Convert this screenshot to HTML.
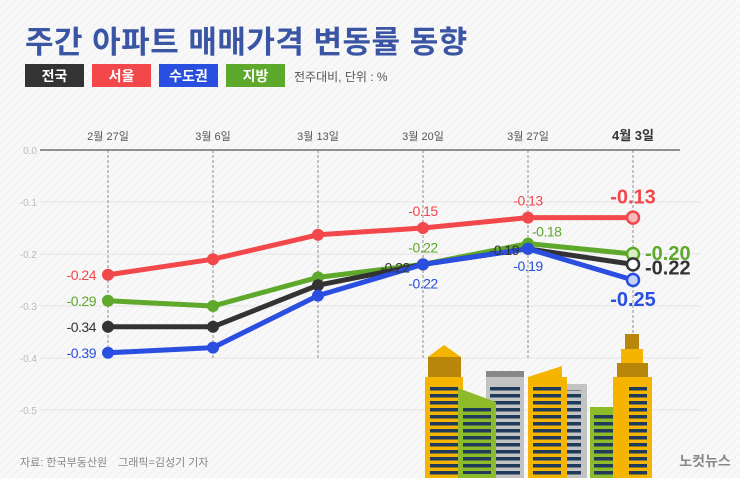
<!DOCTYPE html>
<html><head><meta charset="utf-8"><style>
body{margin:0;width:740px;height:478px;overflow:hidden;background:#f7f7f7;font-family:"Liberation Sans","Noto Sans CJK KR",sans-serif}
svg{display:block}
</style></head><body>
<svg width="740" height="478" viewBox="0 0 740 478" font-family="Liberation Sans, Noto Sans CJK KR, sans-serif">
<defs><pattern id="pt" width="8" height="8" patternUnits="userSpaceOnUse"><rect width="8" height="8" fill="#f8f8f8"/><path d="M0 8L8 0" stroke="#efefef" stroke-width="1"/></pattern>
<pattern id="win" width="10" height="7" patternUnits="userSpaceOnUse"><rect x="0" y="2" width="10" height="3.5" fill="#1f3a5a"/></pattern></defs>
<rect width="740" height="478" fill="url(#pt)"/>
<text x="25" y="53" font-size="31" font-weight="bold" fill="#3a55a4" letter-spacing="0.5">주간 아파트 매매가격 변동률 동향</text>
<g>
<rect x="25" y="64" width="59" height="23" fill="#333"/><text x="54.5" y="81" font-size="14" font-weight="bold" fill="#fff" text-anchor="middle">전국</text>
<rect x="92" y="64" width="59" height="23" fill="#f2474b"/><text x="121.5" y="81" font-size="14" font-weight="bold" fill="#fff" text-anchor="middle">서울</text>
<rect x="159" y="64" width="59" height="23" fill="#2a4ee0"/><text x="188.5" y="81" font-size="14" font-weight="bold" fill="#fff" text-anchor="middle">수도권</text>
<rect x="226" y="64" width="59" height="23" fill="#5ea82b"/><text x="255.5" y="81" font-size="14" font-weight="bold" fill="#fff" text-anchor="middle">지방</text>
<text x="294" y="81" font-size="12" fill="#555">전주대비, 단위 : %</text>
</g>
<g id="grid"></g>
<g id="build">
<polygon points="428,357 444,345 461,357" fill="#f4b400"/>
<rect x="428" y="357" width="33" height="20" fill="#b8860b"/>
<rect x="425" y="377" width="38" height="101" fill="#f4b400"/>
<rect x="430" y="387" width="28" height="91" fill="url(#win)"/>
<rect x="486" y="371" width="38" height="6" fill="#888"/>
<rect x="486" y="377" width="38" height="101" fill="#c3c3c3"/>
<rect x="490" y="387" width="30" height="91" fill="url(#win)"/>
<polygon points="458,388 496,402 496,478 458,478" fill="#8dbb2a"/>
<rect x="463" y="408" width="28" height="66" fill="url(#win)"/>
<rect x="567" y="384" width="20" height="94" fill="#c3c3c3"/>
<rect x="567" y="390" width="14" height="88" fill="url(#win)"/>
<polygon points="528,377 562,366 562,377 567,377 567,478 528,478" fill="#f4b400"/>
<rect x="533" y="386" width="28" height="92" fill="url(#win)"/>
<rect x="590" y="407" width="39" height="71" fill="#8dbb2a"/>
<rect x="594" y="415" width="30" height="60" fill="url(#win)"/>
<rect x="625" y="334" width="14" height="15" fill="#b8860b"/>
<rect x="621" y="349" width="22" height="14" fill="#f4b400"/>
<rect x="617" y="363" width="31" height="14" fill="#b8860b"/>
<rect x="613" y="377" width="39" height="101" fill="#f4b400"/>
<rect x="629" y="386" width="18" height="92" fill="url(#win)"/>
</g>
<text x="705" y="466" font-size="14" font-weight="bold" fill="#888" text-anchor="middle">노컷뉴스</text>
<text x="20" y="466" font-size="11" fill="#888">자료: 한국부동산원　그래픽=김성기 기자</text>
<g id="plot"></g>
</svg>
<script>
const categories=["2월 27일","3월 6일","3월 13일","3월 20일","3월 27일","4월 3일"];
const yTicks=[0,-0.1,-0.2,-0.3,-0.4,-0.5];
const yTickLabels=["0.0","-0.1","-0.2","-0.3","-0.4","-0.5"];
const seoul=[-0.24,-0.21,-0.163,-0.15,-0.13,-0.13];
const national=[-0.34,-0.34,-0.26,-0.22,-0.19,-0.22];
const capital=[-0.39,-0.38,-0.28,-0.22,-0.19,-0.25];
const provinces=[-0.29,-0.30,-0.245,-0.22,-0.18,-0.20];
const seoulLabels=["-0.24",null,null,"-0.15","-0.13","-0.13"];
const nationalLabels=["-0.34",null,null,"-0.22","-0.19","-0.22"];
const capitalLabels=["-0.39",null,null,"-0.22","-0.19","-0.25"];
const provincesLabels=["-0.29",null,null,"-0.22","-0.18","-0.20"];
const NS="http://www.w3.org/2000/svg";
const x=i=>108+i*105;
const y=v=>150-v*520;
function mk(t,a,p){const e=document.createElementNS(NS,t);for(const k in a)e.setAttribute(k,a[k]);p.appendChild(e);return e;}
const grid=document.getElementById('grid');
yTicks.forEach((v,i)=>{
 const l=mk('line',{x1:40,x2:i==0?680:700,y1:y(v),y2:y(v),stroke:i==0?'#555':'#e4e4e4','stroke-width':i==0?1.2:1},grid);
 
 
 const t=mk('text',{x:37,y:y(v)+4,'font-size':10,fill:'#bbb','text-anchor':'end'},grid);t.textContent=yTickLabels[i];
 
 
});
categories.forEach((c,i)=>{
 const l=mk('line',{x1:x(i),x2:x(i),y1:150,y2:y(-0.4),stroke:'#777','stroke-dasharray':'3,2','stroke-width':0.8},grid);
 
 
 const last=i==categories.length-1;
 const t=mk('text',{x:x(i),y:140,'font-size':last?13:11,'font-weight':last?'bold':'normal',fill:last?'#333':'#555','text-anchor':'middle'},grid);t.textContent=c;
 
 
});
const plot=document.getElementById('plot');
const series=[
 {n:'seoul',d:seoul,lb:seoulLabels,c:'#f2474b',lf:'#f6b9ba',off:[[-12,5,'end'],0,0,[0,-12,'middle'],[0,-12,'middle'],[0,-14,'middle']]},
 {n:'provinces',d:provinces,lb:provincesLabels,c:'#5ea82b',lf:'#d9efc6',off:[[-12,5,'end'],0,0,[0,-12,'middle'],[4,-7,'start'],[12,6,'start']]},
 {n:'national',d:national,lb:nationalLabels,c:'#333',lf:'#fff',off:[[-12,5,'end'],0,0,[-28,8,'middle'],[-9,6,'end'],[12,10,'start']]},
 {n:'capital',d:capital,lb:capitalLabels,c:'#2a4ee0',lf:'#c8d2f8',off:[[-12,5,'end'],0,0,[0,24,'middle'],[0,22,'middle'],[0,26,'middle']]}
];
series.forEach(s=>{
 const pl=mk('polyline',{points:s.d.map((v,i)=>x(i)+','+y(v)).join(' '),fill:'none',stroke:s.c,'stroke-width':5,'stroke-linejoin':'round'},plot);
 
 
});
series.forEach(s=>{
 s.d.forEach((v,i)=>{
  const last=i==s.d.length-1;
  const c=mk('circle',{cx:x(i),cy:y(v),r:6,fill:last?s.lf:s.c,stroke:s.c,'stroke-width':last?2.5:0},plot);
  
  
  if(s.lb[i]){const o=s.off[i];
   const t=mk('text',{x:x(i)+o[0],y:y(v)+o[1],'font-size':last?20:14,'font-weight':last?'bold':'normal',fill:s.c,'text-anchor':o[2],'letter-spacing':last?0:-0.5},plot);t.textContent=s.lb[i];
   
   }
 });
});
</script>
</body></html>
